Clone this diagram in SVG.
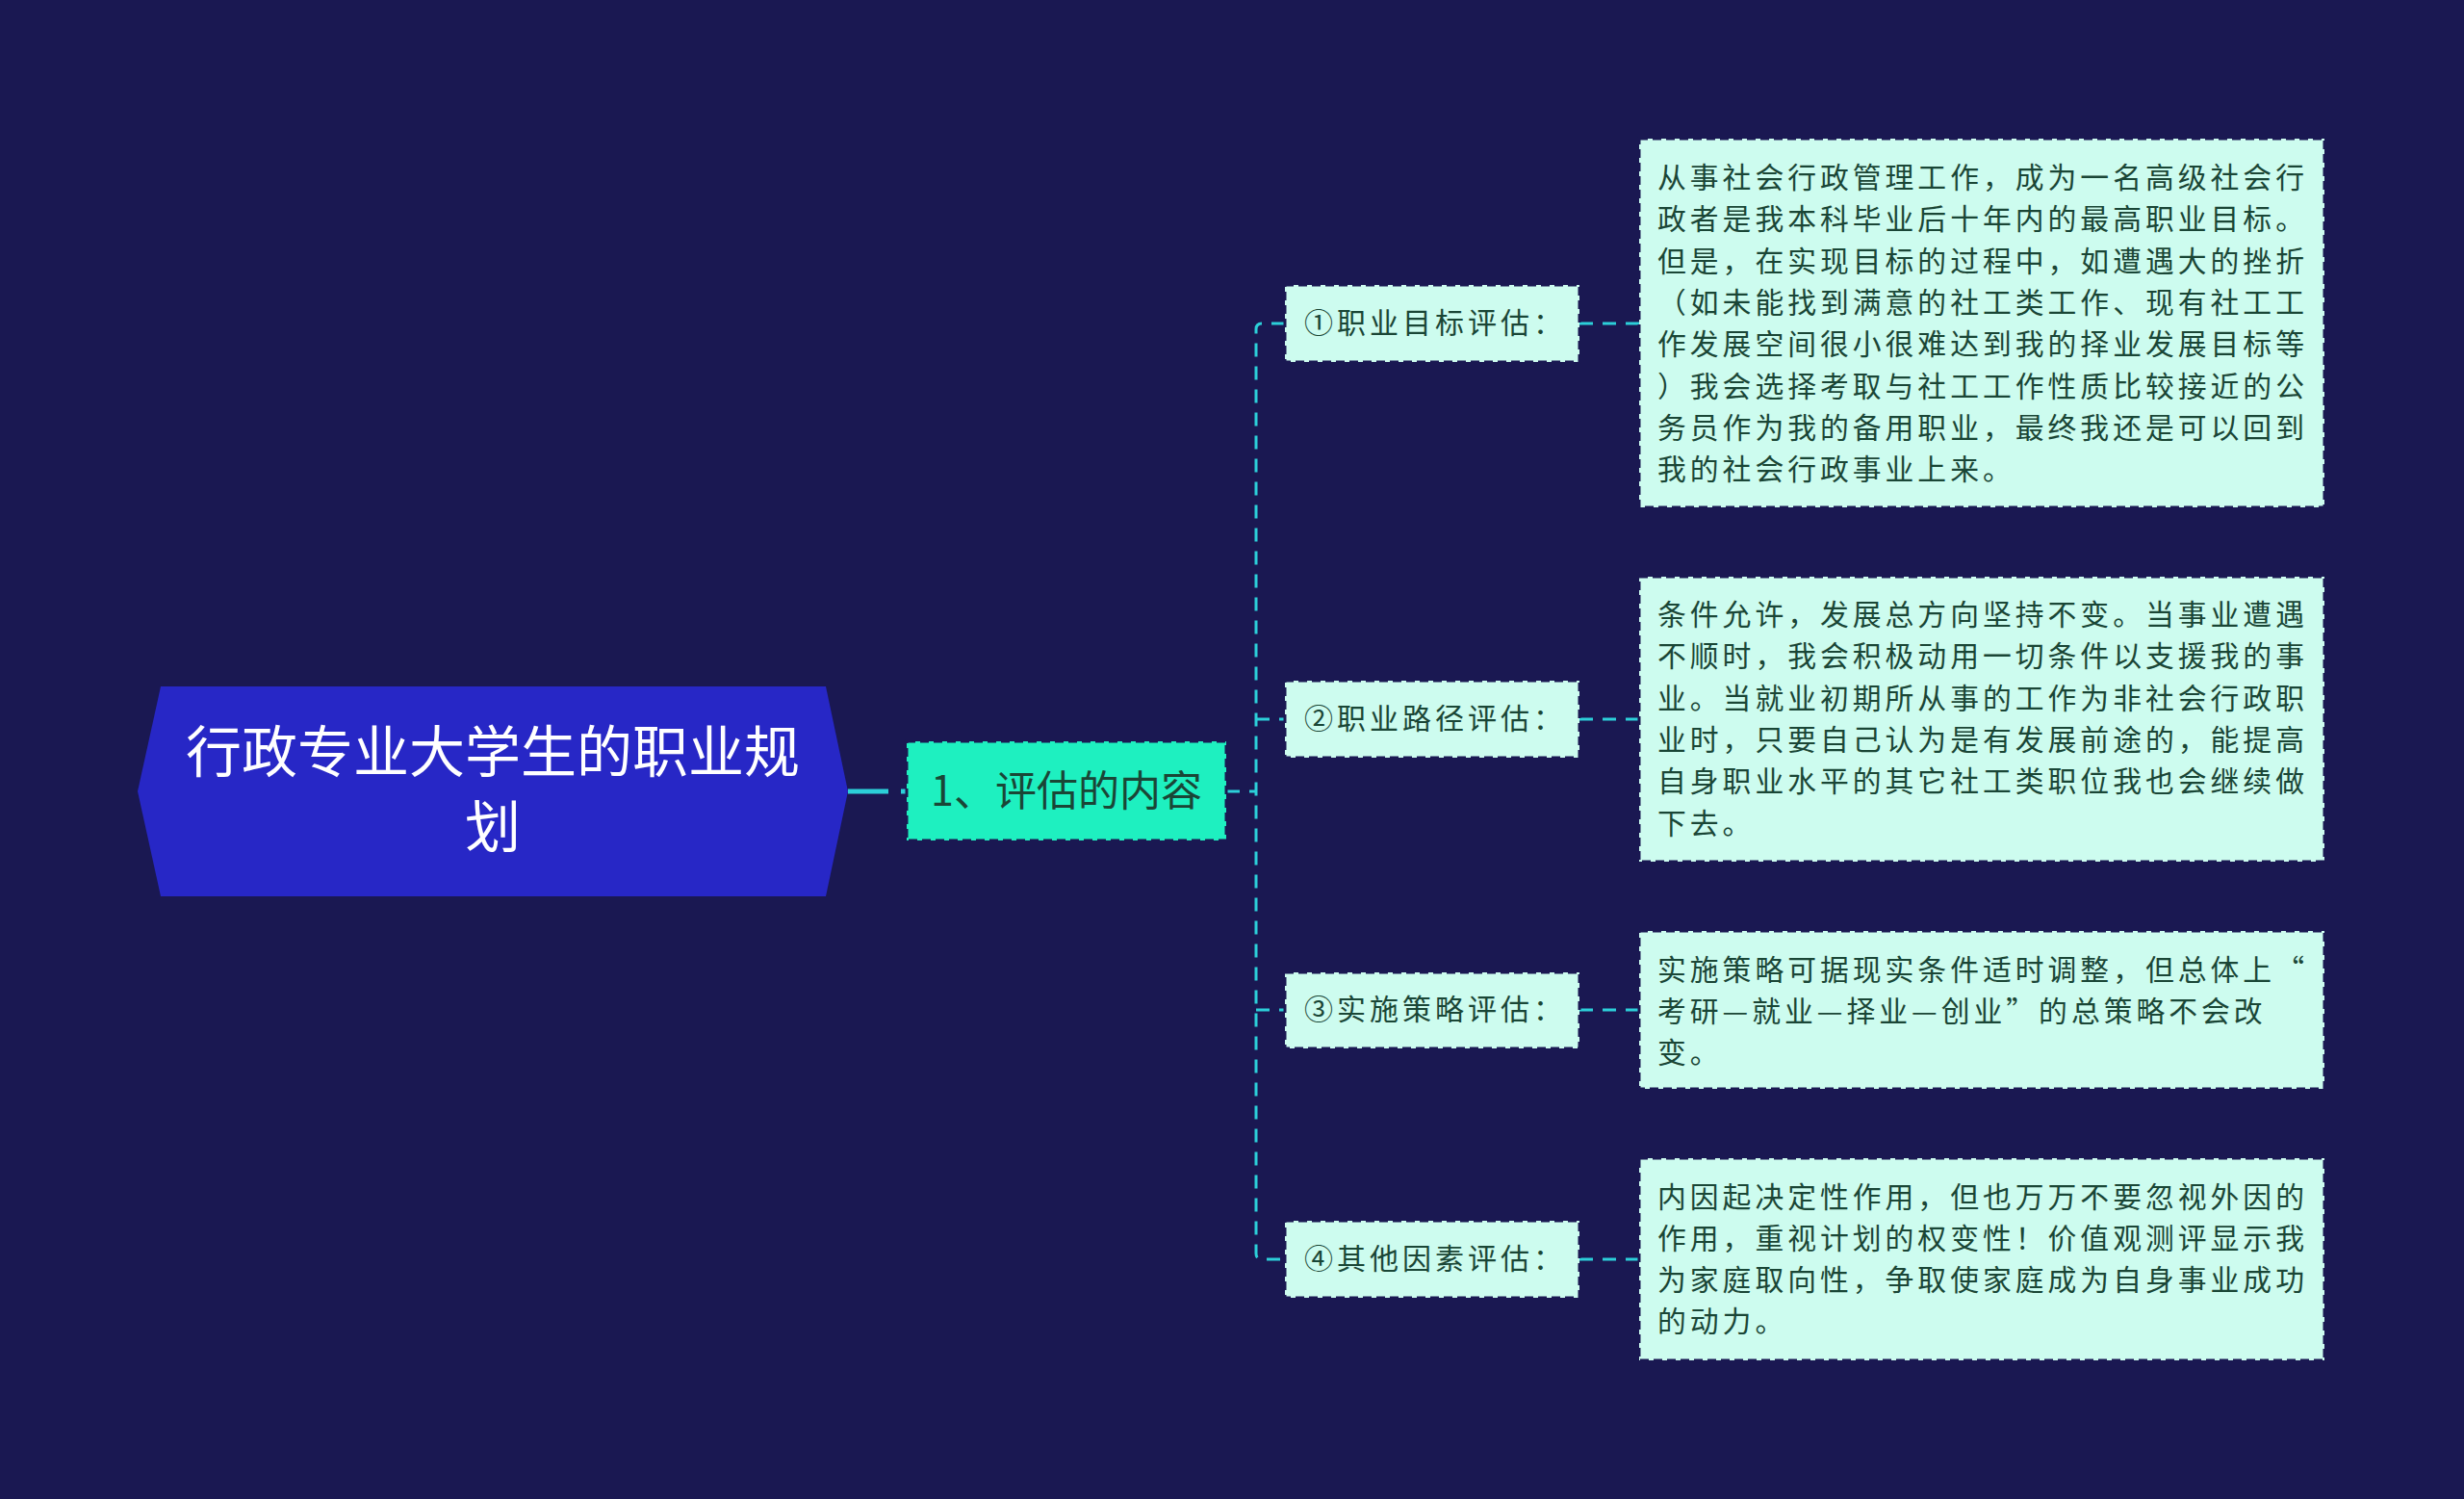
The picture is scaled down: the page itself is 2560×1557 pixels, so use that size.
<svg xmlns="http://www.w3.org/2000/svg" width="2560" height="1557" viewBox="0 0 2560 1557">
<style>
.bg{fill:#1a1852}
.root{fill:#2727c6}
.rt{font-family:"Noto Sans CJK SC","Noto Sans",sans-serif;font-size:58px;fill:#ffffff;text-anchor:middle}
.child{fill:#1ef0c0;stroke:#1a1852;stroke-width:3;stroke-dasharray:9 5}
.ct{font-family:"Noto Sans CJK SC","Noto Sans",sans-serif;font-size:43px;fill:#1a4636;text-anchor:middle}
.box{fill:#cdfcef;stroke:#1a1852;stroke-width:3;stroke-dasharray:9 5}
.nt{font-family:"Noto Sans CJK SC","Noto Sans",sans-serif;font-size:30px;letter-spacing:4px;fill:#1a4636}
.lt{font-family:"Noto Sans CJK SC","Noto Sans",sans-serif;font-size:29.8px;letter-spacing:4px;fill:#1a4636}
.ln{fill:none;stroke:#2ccfd9;stroke-width:3;stroke-dasharray:14 10}
.ln0{fill:none;stroke:#2ccfd9;stroke-width:5;stroke-dasharray:42 13}
</style>
<rect class="bg" x="0" y="0" width="2560" height="1557"/>
<g id="connectors">
<path class="ln0" d="M881,822 H942"/>
<path class="ln" d="M1274,822 H1305"/>
<path class="ln" d="M1335,336 H1311 Q1305,336 1305,342 V1302 Q1305,1308 1311,1308 H1335"/>
<path class="ln" d="M1305,747 H1335"/>
<path class="ln" d="M1305,1049 H1335"/>
<path class="ln" d="M1641,336 H1703"/>
<path class="ln" d="M1641,747 H1703"/>
<path class="ln" d="M1641,1049 H1703"/>
<path class="ln" d="M1641,1308 H1703"/>
</g>
<g id="root">
<polygon class="root" points="143,822 167,713 858,713 881,822 858,931 167,931"/>
<text class="rt" x="512" y="802">行政专业大学生的职业规</text>
<text class="rt" x="512" y="880">划</text>
</g>
<g id="child">
<rect class="child" x="942" y="770" width="332" height="103"/>
<text class="ct" x="1108" y="837">1、评估的内容</text>
</g>
<g id="node1">
<rect class="box" x="1335" y="296" width="306" height="80"/>
<text class="nt" x="1355" y="346">①职业目标评估：</text>
</g>
<g id="node2">
<rect class="box" x="1335" y="707" width="306" height="80"/>
<text class="nt" x="1355" y="757">②职业路径评估：</text>
</g>
<g id="node3">
<rect class="box" x="1335" y="1010" width="306" height="79"/>
<text class="nt" x="1355" y="1059">③实施策略评估：</text>
</g>
<g id="node4">
<rect class="box" x="1335" y="1268" width="306" height="80"/>
<text class="nt" x="1355" y="1318">④其他因素评估：</text>
</g>
<g id="leaf1">
<rect class="box" x="1703" y="144" width="712" height="383"/>
<text class="lt" x="1722" y="195">从事社会行政管理工作，成为一名高级社会行</text>
<text class="lt" x="1722" y="238.3">政者是我本科毕业后十年内的最高职业目标。</text>
<text class="lt" x="1722" y="281.6">但是，在实现目标的过程中，如遭遇大的挫折</text>
<text class="lt" x="1722" y="324.9">（如未能找到满意的社工类工作、现有社工工</text>
<text class="lt" x="1722" y="368.2">作发展空间很小很难达到我的择业发展目标等</text>
<text class="lt" x="1722" y="411.5">）我会选择考取与社工工作性质比较接近的公</text>
<text class="lt" x="1722" y="454.8">务员作为我的备用职业，最终我还是可以回到</text>
<text class="lt" x="1722" y="498.1">我的社会行政事业上来。</text>
</g>
<g id="leaf2">
<rect class="box" x="1703" y="599" width="712" height="296"/>
<text class="lt" x="1722" y="649.1">条件允许，发展总方向坚持不变。当事业遭遇</text>
<text class="lt" x="1722" y="692.4">不顺时，我会积极动用一切条件以支援我的事</text>
<text class="lt" x="1722" y="735.7">业。当就业初期所从事的工作为非社会行政职</text>
<text class="lt" x="1722" y="779">业时，只要自己认为是有发展前途的，能提高</text>
<text class="lt" x="1722" y="822.3">自身职业水平的其它社工类职位我也会继续做</text>
<text class="lt" x="1722" y="865.6">下去。</text>
</g>
<g id="leaf3">
<rect class="box" x="1703" y="967" width="712" height="164"/>
<text class="lt" x="1722" y="1017.5">实施策略可据现实条件适时调整，但总体上“</text>
<text class="lt" x="1722" y="1060.8">考研—就业—择业—创业”的总策略不会改</text>
<text class="lt" x="1722" y="1104.1">变。</text>
</g>
<g id="leaf4">
<rect class="box" x="1703" y="1203" width="712" height="210"/>
<text class="lt" x="1722" y="1253.5">内因起决定性作用，但也万万不要忽视外因的</text>
<text class="lt" x="1722" y="1296.8">作用，重视计划的权变性！价值观测评显示我</text>
<text class="lt" x="1722" y="1340.1">为家庭取向性，争取使家庭成为自身事业成功</text>
<text class="lt" x="1722" y="1383.4">的动力。</text>
</g>
</svg>
